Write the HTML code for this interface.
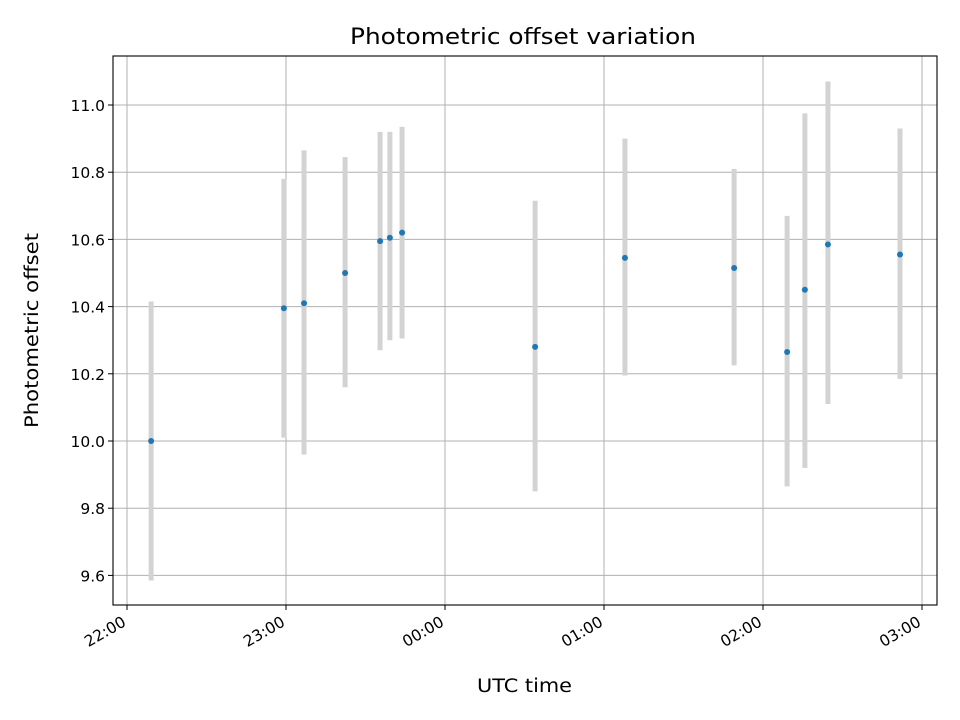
<!DOCTYPE html>
<html><head><meta charset="utf-8"><style>
body{margin:0;background:#fff;}
svg{display:block;font-family:"DejaVu Sans","Liberation Sans",sans-serif;}
</style></head><body>
<svg id="chart" width="960" height="720" xmlns="http://www.w3.org/2000/svg"></svg>
<script>
const minutesAfter22 = [9.1, 59.2, 66.8, 82.3, 95.5, 99.2, 103.8, 154.0, 187.9, 229.1, 249.1, 255.8, 264.5, 291.7];
const offsets = [10.0, 10.395, 10.41, 10.50, 10.595, 10.605, 10.62, 10.28, 10.545, 10.515, 10.265, 10.45, 10.585, 10.555];
const errLow = [9.585, 10.01, 9.96, 10.16, 10.27, 10.30, 10.305, 9.85, 10.195, 10.225, 9.865, 9.92, 10.11, 10.185];
const errHigh = [10.415, 10.78, 10.865, 10.845, 10.92, 10.92, 10.935, 10.715, 10.90, 10.81, 10.67, 10.975, 11.07, 10.93];
const xTickMinutes = [0, 60, 120, 180, 240, 300];
const xTickLabels = ["22:00", "23:00", "00:00", "01:00", "02:00", "03:00"];
const yTicks = [9.6, 9.8, 10.0, 10.2, 10.4, 10.6, 10.8, 11.0];

const L=113,R=937,T=56,B=605;
const xs = m => 127 + m*159/60;
const ys = v => 441 - (v-10.0)*336;
const svg=document.getElementById('chart');
const NS="http://www.w3.org/2000/svg";
function mk(tag,attrs,parent){const e=document.createElementNS(NS,tag);for(const k in attrs)e.setAttribute(k,attrs[k]);(parent||svg).appendChild(e);return e;}

const grid=mk('g',{});


xTickMinutes.forEach(m=>{mk('line',{x1:xs(m),x2:xs(m),y1:T,y2:B,stroke:'#b0b0b0','stroke-width':1},grid);});
yTicks.forEach(v=>{mk('line',{x1:L,x2:R,y1:ys(v),y2:ys(v),stroke:'#b0b0b0','stroke-width':1},grid);});

const errs=mk('g',{});


minutesAfter22.forEach((m,i)=>{
  const l=mk('line',{x1:xs(m),x2:xs(m),y1:ys(errLow[i]),y2:ys(errHigh[i]),stroke:'#d3d3d3','stroke-width':5},errs);
  
  
});
const pts=mk('g',{});


minutesAfter22.forEach((m,i)=>{
  const c=mk('circle',{cx:xs(m),cy:ys(offsets[i]),r:3,fill:'#1f77b4'},pts);
  
  
});

const frame=mk('rect',{x:L,y:T,width:R-L,height:B-T,fill:'none',stroke:'#000','stroke-width':1.1});



xTickMinutes.forEach((m,i)=>{
  const x=xs(m);
  mk('line',{x1:x,x2:x,y1:B,y2:B+5,stroke:'#000','stroke-width':1});
  const tx=x, ty=B+20;
  const t=mk('text',{x:tx,y:ty,'text-anchor':'end','font-size':15.5,fill:'#000',transform:`rotate(-30 ${tx} ${ty})`});
  t.textContent=xTickLabels[i];
  
  
});
yTicks.forEach(v=>{
  const y=ys(v);
  mk('line',{x1:L-5,x2:L,y1:y,y2:y,stroke:'#000','stroke-width':1});
  const t=mk('text',{x:L-8,y:y+6,'text-anchor':'end','font-size':15.5,fill:'#000'});
  t.textContent=v.toFixed(1);
  
  
});

const title=mk('text',{x:350,y:44,'font-size':22,fill:'#000',textLength:346,lengthAdjust:'spacingAndGlyphs'});
title.textContent='Photometric offset variation';


const xt=mk('text',{x:477,y:692,'font-size':18.5,fill:'#000',textLength:95,lengthAdjust:'spacingAndGlyphs'});
xt.textContent='UTC time';


const yt=mk('text',{x:38,y:428,'font-size':18.5,fill:'#000',textLength:195,lengthAdjust:'spacingAndGlyphs',transform:'rotate(-90 38 428)'});
yt.textContent='Photometric offset';


</script>
</body></html>
